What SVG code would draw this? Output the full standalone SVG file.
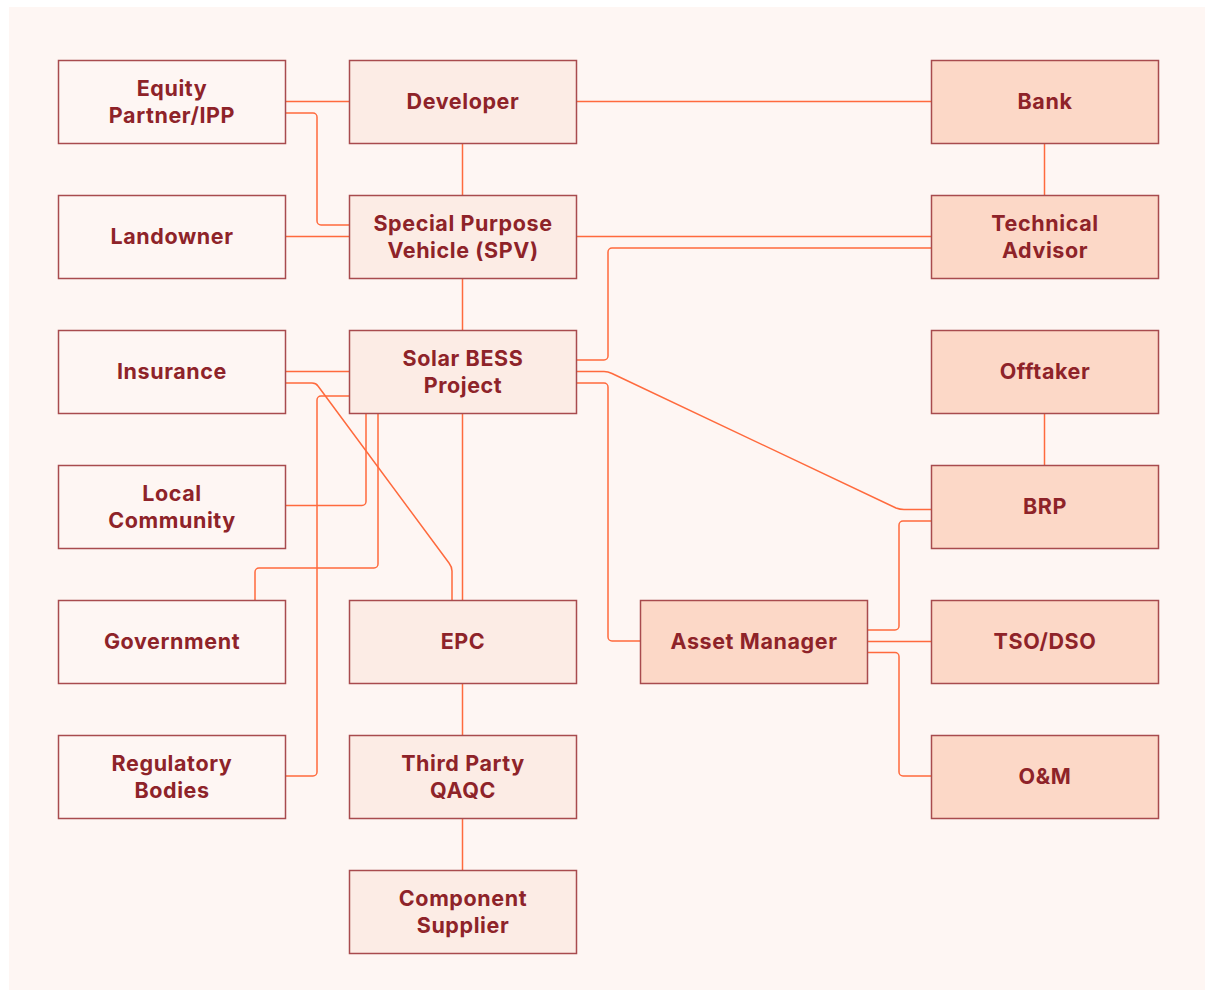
<svg xmlns="http://www.w3.org/2000/svg" width="1214" height="990" viewBox="0 0 1214 990">
<style>
.bg{fill:#fef6f3}
.n rect{stroke:#a84b4e;stroke-width:1.5}
.l rect{fill:#fef6f3}
.m rect{fill:#fcece5}
.r rect{fill:#fcd8c7}
.n text{font-family:Inter,"Liberation Sans",sans-serif;font-weight:700;font-size:21.5px;letter-spacing:0.6px;fill:#8e2329;text-anchor:middle}
.c path{fill:none;stroke:#ff6a3d;stroke-width:1.5}
</style>
<rect width="1214" height="990" fill="#ffffff"/>
<rect class="bg" x="9" y="7" width="1196" height="983"/>
<g class="c">
<path d="M285 101.5H349"/>
<path d="M285 113H313a4 4 0 0 1 4 4V221a4 4 0 0 0 4 4H349"/>
<path d="M285 236.5H349"/>
<path d="M576 101.5H931"/>
<path d="M462.5 143V195"/>
<path d="M1044.5 143V195"/>
<path d="M576 236.5H931"/>
<path d="M576 360H604a4 4 0 0 0 4-4V252a4 4 0 0 1 4-4H931"/>
<path d="M462.5 278V330"/>
<path d="M576 371.5H604q4 0 8 2L896 508q4 1.5 8 1.5H931"/>
<path d="M576 383H604a4 4 0 0 1 4 4V637a4 4 0 0 0 4 4H640"/>
<path d="M285 371.5H349"/>
<path d="M285 383H312q4 0 6 3L449 563q3 4 3 8V600"/>
<path d="M285 776H313a4 4 0 0 0 4-4V400a4 4 0 0 1 4-4H349"/>
<path d="M285 505.5H362a4 4 0 0 0 4-4V413"/>
<path d="M255 600V572a4 4 0 0 1 4-4H374a4 4 0 0 0 4-4V413"/>
<path d="M462.5 413V600"/>
<path d="M462.5 683V735"/>
<path d="M462.5 818V870"/>
<path d="M1044.5 413V465"/>
<path d="M867 630H895a4 4 0 0 0 4-4V525a4 4 0 0 1 4-4H931"/>
<path d="M867 641.5H931"/>
<path d="M867 652.5H895a4 4 0 0 1 4 4V772a4 4 0 0 0 4 4H931"/>
</g>
<g id="equity" class="n l"><rect x="58.5" y="60.5" width="227" height="83"/><text x="172" y="95.5">Equity</text><text x="172" y="122.5">Partner/IPP</text></g>
<g id="landowner" class="n l"><rect x="58.5" y="195.5" width="227" height="83"/><text x="172" y="244">Landowner</text></g>
<g id="insurance" class="n l"><rect x="58.5" y="330.5" width="227" height="83"/><text x="172" y="379">Insurance</text></g>
<g id="local" class="n l"><rect x="58.5" y="465.5" width="227" height="83"/><text x="172" y="500.5">Local</text><text x="172" y="527.5">Community</text></g>
<g id="government" class="n l"><rect x="58.5" y="600.5" width="227" height="83"/><text x="172" y="649">Government</text></g>
<g id="regulatory" class="n l"><rect x="58.5" y="735.5" width="227" height="83"/><text x="172" y="770.5">Regulatory</text><text x="172" y="797.5">Bodies</text></g>
<g id="developer" class="n m"><rect x="349.5" y="60.5" width="227" height="83"/><text x="463" y="109">Developer</text></g>
<g id="spv" class="n m"><rect x="349.5" y="195.5" width="227" height="83"/><text x="463" y="230.5">Special Purpose</text><text x="463" y="257.5">Vehicle (SPV)</text></g>
<g id="solar" class="n m"><rect x="349.5" y="330.5" width="227" height="83"/><text x="463" y="365.5">Solar BESS</text><text x="463" y="392.5">Project</text></g>
<g id="epc" class="n m"><rect x="349.5" y="600.5" width="227" height="83"/><text x="463" y="649">EPC</text></g>
<g id="qaqc" class="n m"><rect x="349.5" y="735.5" width="227" height="83"/><text x="463" y="770.5">Third Party</text><text x="463" y="797.5">QAQC</text></g>
<g id="supplier" class="n m"><rect x="349.5" y="870.5" width="227" height="83"/><text x="463" y="905.5">Component</text><text x="463" y="932.5">Supplier</text></g>
<g id="asset" class="n r"><rect x="640.5" y="600.5" width="227" height="83"/><text x="754" y="649">Asset Manager</text></g>
<g id="bank" class="n r"><rect x="931.5" y="60.5" width="227" height="83"/><text x="1045" y="109">Bank</text></g>
<g id="advisor" class="n r"><rect x="931.5" y="195.5" width="227" height="83"/><text x="1045" y="230.5">Technical</text><text x="1045" y="257.5">Advisor</text></g>
<g id="offtaker" class="n r"><rect x="931.5" y="330.5" width="227" height="83"/><text x="1045" y="379">Offtaker</text></g>
<g id="brp" class="n r"><rect x="931.5" y="465.5" width="227" height="83"/><text x="1045" y="514">BRP</text></g>
<g id="tso" class="n r"><rect x="931.5" y="600.5" width="227" height="83"/><text x="1045" y="649">TSO/DSO</text></g>
<g id="om" class="n r"><rect x="931.5" y="735.5" width="227" height="83"/><text x="1045" y="784">O&amp;M</text></g>
</svg>
